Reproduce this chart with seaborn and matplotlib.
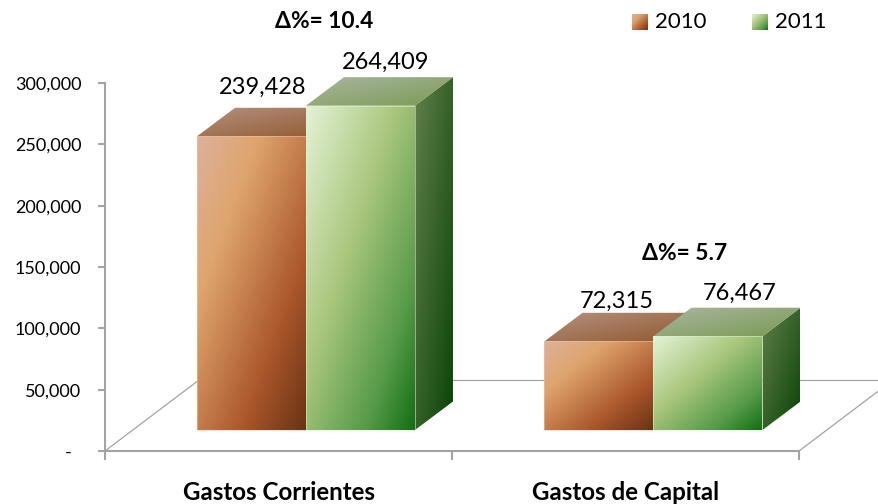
import matplotlib
matplotlib.use("Agg")
import matplotlib.pyplot as plt
from matplotlib.colors import LinearSegmentedColormap
from matplotlib.patches import Polygon
import numpy as np
import pandas as pd
import seaborn as sns

gastos = ["Gastos Corrientes", "Gastos de Capital"]
years = ["2010", "2011"]
values_2010 = [239428, 72315]
values_2011 = [264409, 76467]
deltas = ["Δ%= 10.4", "Δ%= 5.7"]
yticks = [0, 50000, 100000, 150000, 200000, 250000, 300000]

W, H = 879, 504
X0_PX, Y0_PX = 306, 451  # where category 0 / value 0 land in the image
UNIT_X = 1 / 347.5  # category units per pixel
UNIT_Y = 300000 / 368  # value per pixel
FLOOR = 21 * UNIT_Y  # bars stand a bit in front of the axis line
DEPTH_X, DEPTH_Y = 38 * UNIT_X, 28.5 * UNIT_Y
AXIS_GRAY = "#A3A3A3"
FONT = ["Lato", "DejaVu Sans"]


def px(x, y):
    """Image pixel to data coordinates."""
    return (x - X0_PX) * UNIT_X, (Y0_PX - y) * UNIT_Y


front_cmaps = {
    "2010": LinearSegmentedColormap.from_list(
        "f10", [(0, "#DDB09A"), (0.28, "#DFA56E"), (0.72, "#A9552A"), (1, "#6A3414")]
    ),
    "2011": LinearSegmentedColormap.from_list(
        "f11", [(0, "#E4F2D6"), (0.42, "#A9C67C"), (0.78, "#559A48"), (1, "#147014")]
    ),
}
top_cmaps = {
    "2010": LinearSegmentedColormap.from_list("t10", ["#B39281", "#93582E"]),
    "2011": LinearSegmentedColormap.from_list("t11", ["#ABB6A2", "#7A9A52"]),
}
side_cmaps = {
    "2010": LinearSegmentedColormap.from_list("s10", ["#8A5A3A", "#4A2410"]),
    "2011": LinearSegmentedColormap.from_list("s11", ["#627F4A", "#0A4406"]),
}
edge_colors = {"2010": "#E8C8B0", "2011": "#E4F0D4"}


def gradient(ax, pts, cmap, z):
    """Diagonal gradient clipped to a polygon."""
    pts = np.array(pts)
    u, v = np.meshgrid(np.linspace(0, 1, 80), np.linspace(0, 1, 80))
    im = ax.imshow(
        (u + v) / 2,
        extent=(pts[:, 0].min(), pts[:, 0].max(), pts[:, 1].min(), pts[:, 1].max()),
        cmap=cmap,
        vmin=0,
        vmax=1,
        aspect="auto",
        interpolation="bilinear",
        zorder=z,
    )
    clip = Polygon(pts, closed=True, fc="none", ec="none", transform=ax.transData)
    ax.add_patch(clip)
    im.set_clip_path(clip)


df = pd.DataFrame(
    {
        "gasto": gastos * 2,
        "anio": [years[0]] * 2 + [years[1]] * 2,
        "valor": values_2010 + values_2011,
    }
)

sns.set_theme(style="white")
plt.rcParams["font.family"] = FONT

fig, ax = plt.subplots(figsize=(W / 100, H / 100), dpi=100)
ax.set_position([0, 0, 1, 1])

sns.barplot(
    data=df,
    x="gasto",
    y="valor",
    hue="anio",
    palette=["#C8804F", "#8DB86A"],
    width=218 / 347.5,
    gap=0,
    bottom=FLOOR,
    legend=False,
    ax=ax,
)
ax.autoscale(False)

# 3D faces built on top of the seaborn bars
z = 3
for year, container in zip(years, ax.containers):
    for bar in container:
        x0, x1 = bar.get_x(), bar.get_x() + bar.get_width()
        y0, y1 = bar.get_y(), bar.get_y() + bar.get_height()
        bar.set_edgecolor("none")
        side = [(x1, y0), (x1 + DEPTH_X, y0 + DEPTH_Y), (x1 + DEPTH_X, y1 + DEPTH_Y), (x1, y1)]
        top = [(x0, y1), (x1, y1), (x1 + DEPTH_X, y1 + DEPTH_Y), (x0 + DEPTH_X, y1 + DEPTH_Y)]
        front = [(x0, y0), (x1, y0), (x1, y1), (x0, y1)]
        gradient(ax, side, side_cmaps[year], z)
        gradient(ax, top, top_cmaps[year], z + 1)
        gradient(ax, front, front_cmaps[year], z + 2)
        # faint light rim around the front face
        ax.add_patch(
            Polygon(front, closed=True, fc="none", ec=edge_colors[year], lw=0.7, alpha=0.55, zorder=z + 2.5)
        )
    z += 3

# back of the floor
xl, _ = px(105, 0)
xr, _ = px(799, 0)
floor_dx, floor_dy = 94 * UNIT_X, 71 * UNIT_Y
ax.plot([xl, xl + floor_dx], [0, floor_dy], color=AXIS_GRAY, lw=0.9, zorder=1)
ax.plot([xr, xr + floor_dx], [0, floor_dy], color=AXIS_GRAY, lw=0.9, zorder=1)
ax.plot([xl + floor_dx, xr + floor_dx], [floor_dy, floor_dy], color=AXIS_GRAY, lw=0.9, zorder=1)

# data labels, nudged by hand like in the original
nudges = [(11, 49), (25, 43), (18, 40), (32, 43)]
all_bars = [b for c in ax.containers for b in c]
order = [all_bars[0], all_bars[2], all_bars[1], all_bars[3]]
for bar, (nx, ny) in zip(order, nudges):
    ax.annotate(
        f"{int(round(bar.get_height())):,}",
        (bar.get_x() + bar.get_width() / 2, bar.get_y() + bar.get_height()),
        xytext=(nx * 0.72, ny * 0.72),
        textcoords="offset points",
        ha="center",
        va="center",
        fontsize=17,
        color="black",
        zorder=30,
    )

# axes
ax.set_xlim((0 - X0_PX) * UNIT_X, (W - X0_PX) * UNIT_X)
ax.set_ylim((Y0_PX - H) * UNIT_Y, Y0_PX * UNIT_Y)
for name in ["top", "right"]:
    ax.spines[name].set_visible(False)
for name in ["left", "bottom"]:
    ax.spines[name].set_color(AXIS_GRAY)
    ax.spines[name].set_linewidth(1.5)
ax.spines["left"].set_position(("data", xl))
ax.spines["bottom"].set_position(("data", 0))
ax.spines["left"].set_bounds(0, 300000)
ax.spines["bottom"].set_bounds(xl, xr)

# the dash for zero sits further left than the numbers, so it gets its own text
ax.set_yticks(yticks, [""] + [f"{t:,}" for t in yticks[1:]], fontsize=13)
ax.tick_params(axis="y", left=True, length=5, width=1.5, color=AXIS_GRAY, pad=12, labelcolor="black")
ax.set_xticks([xl, (xl + xr) / 2, xr], ["", "", ""])
ax.tick_params(axis="x", bottom=True, length=6.5, width=1.5, color=AXIS_GRAY)
ax.set_xlabel("")
ax.set_ylabel("")
ax.set_facecolor("white")
fig.text(68 / W, 1 - 453 / H, "-", ha="center", va="center", fontsize=13, color="black")

for name, cx in zip(gastos, [279, 626]):
    fig.text(cx / W, 1 - 492 / H, name, ha="center", va="center", fontsize=17.4, fontweight="bold", color="black")

# delta notes
for note, (cx, cy) in zip(deltas, [(324, 22), (685, 254)]):
    fig.text(cx / W, 1 - cy / H, note, ha="center", va="center", fontsize=16.4, fontweight="bold", color="black")

# legend
for year, lx in zip(years, [632, 752]):
    a = px(lx, 30)
    b = px(lx + 16, 14)
    gradient(ax, [a, (b[0], a[1]), b, (a[0], b[1])], front_cmaps[year], 20)
    fig.text((lx + 23) / W, 1 - 22 / H, year, ha="left", va="center", fontsize=16, color="black")

fig.savefig("out.png", dpi=100, facecolor="white")
